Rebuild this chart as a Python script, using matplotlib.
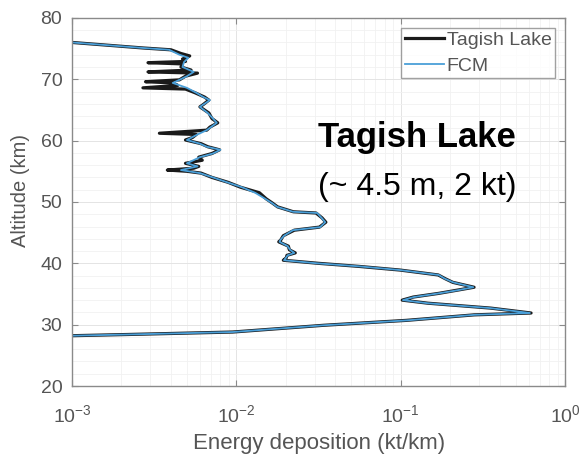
import matplotlib
matplotlib.use("Agg")
import matplotlib.pyplot as plt
from matplotlib.ticker import LogLocator, MultipleLocator

plt.rcParams['font.family'] = ['Liberation Sans', 'DejaVu Sans']
plt.rcParams['mathtext.default'] = 'regular'

# Energy deposition profiles (altitude in km, energy in kt/km)
alt_obs = [76.6, 76.0, 75.1, 74.8, 74.2, 73.8, 73.3, 72.9, 72.7, 72.5, 72.0, 71.5,
           71.2, 71.0, 70.5, 69.9, 69.6, 69.4, 69.0, 68.6, 68.4, 67.8, 67.1, 66.6,
           65.9, 65.5, 64.5, 63.6, 62.9, 62.2, 61.7, 61.2, 61.0, 60.5, 60.1, 59.5,
           59.0, 58.5, 57.9, 57.3, 56.8, 56.3, 55.8, 55.5, 55.2, 55.0, 54.7, 54.0,
           53.2, 52.4, 51.5, 50.5, 49.8, 49.2, 48.4, 48.2, 47.4, 46.7, 45.9, 45.4,
           44.5, 43.8, 43.5, 42.8, 42.2, 41.7, 41.3, 40.9, 40.5, 40.0, 39.5, 38.9,
           38.1, 37.5, 36.9, 36.1, 35.6, 35.1, 34.5, 34.0, 33.5, 32.7, 31.9, 31.6,
           30.7, 29.9, 28.8, 28.4, 28.2, 27.9]
e_obs = [0.0008, 0.0010, 0.0027, 0.0040, 0.0046, 0.0052, 0.0047, 0.0049, 0.0029, 0.0047,
         0.0046, 0.0053, 0.0029, 0.0058, 0.0049, 0.0045, 0.0028, 0.0041, 0.0044, 0.0027,
         0.0049, 0.0056, 0.0064, 0.0068, 0.0063, 0.0060, 0.0068, 0.0071, 0.0077, 0.0069,
         0.0066, 0.0034, 0.0057, 0.0054, 0.0049, 0.0061, 0.0067, 0.0079, 0.0071, 0.0059,
         0.0062, 0.0049, 0.0059, 0.0055, 0.0038, 0.0050, 0.0061, 0.0071, 0.0089, 0.0106,
         0.0138, 0.0152, 0.0166, 0.0178, 0.0222, 0.0305, 0.0332, 0.0350, 0.0320, 0.0225,
         0.0193, 0.0186, 0.0181, 0.0207, 0.0210, 0.0228, 0.0203, 0.0201, 0.0193, 0.0315,
         0.0555, 0.0990, 0.1690, 0.1860, 0.2070, 0.2790, 0.2180, 0.1700, 0.1190, 0.1020,
         0.1460, 0.3520, 0.6200, 0.2800, 0.1080, 0.0340, 0.0095, 0.0022, 0.0010, 0.0007]

alt_fcm = [76.6, 76.0, 75.1, 74.8, 74.0, 73.5, 72.8, 72.0, 71.2, 70.5, 69.9, 69.4,
           68.6, 67.8, 67.1, 66.6, 65.5, 64.5, 63.6, 62.9, 62.2, 61.7, 61.0, 60.1,
           59.5, 59.0, 58.5, 57.9, 57.3, 56.3, 55.8, 55.2, 54.7, 54.0, 53.2, 52.4,
           51.5, 50.5, 49.8, 49.2, 48.4, 48.2, 47.4, 46.7, 45.9, 45.4, 44.5, 43.8,
           43.5, 42.8, 42.2, 41.7, 41.3, 40.9, 40.5, 40.0, 39.5, 38.9, 38.1, 37.5,
           36.9, 36.1, 35.6, 35.1, 34.5, 34.0, 33.5, 32.7, 31.9, 31.6, 30.7, 29.9,
           28.8, 28.4, 28.2, 27.9]
e_fcm = [0.0008, 0.0010, 0.0027, 0.0039, 0.0045, 0.0051, 0.0048, 0.0047, 0.0055, 0.0050,
         0.0045, 0.0041, 0.0050, 0.0057, 0.0063, 0.0069, 0.0060, 0.0067, 0.0072, 0.0076,
         0.0070, 0.0066, 0.0058, 0.0050, 0.0060, 0.0066, 0.0080, 0.0072, 0.0060, 0.0050,
         0.0058, 0.0046, 0.0060, 0.0072, 0.0088, 0.0108, 0.0130, 0.0150, 0.0165, 0.0177,
         0.0221, 0.0310, 0.0330, 0.0347, 0.0323, 0.0221, 0.0195, 0.0185, 0.0183, 0.0205,
         0.0212, 0.0225, 0.0205, 0.0200, 0.0195, 0.0310, 0.0560, 0.0990, 0.1700, 0.1850,
         0.2080, 0.2760, 0.2200, 0.1700, 0.1200, 0.1030, 0.1450, 0.3500, 0.6100, 0.2800,
         0.1090, 0.0340, 0.0095, 0.0022, 0.0010, 0.0007]

x_ticks = [1e-3, 1e-2, 1e-1, 1e0]
y_ticks = [20, 30, 40, 50, 60, 70, 80]

fig = plt.figure(figsize=(5.83, 4.59), dpi=100)
ax = fig.add_axes([0.1235, 0.159, 0.846, 0.802])

ax.plot(e_obs, alt_obs, color='#1a1a1a', lw=2.3, label='Tagish Lake')
ax.plot(e_fcm, alt_fcm, color='#4a9fd8', lw=1.3, label='FCM')

ax.set_xscale('log')
ax.set_xlim(1e-3, 1e0)
ax.set_ylim(20, 80)
ax.set_xticks(x_ticks)
ax.set_yticks(y_ticks)
ax.xaxis.set_minor_locator(LogLocator(base=10, subs=range(2, 10)))
ax.yaxis.set_minor_locator(MultipleLocator(2))

ax.grid(True, which='major', color='#e4e4e4', lw=0.7)
ax.grid(True, which='minor', color='#f1f1f1', lw=0.6)
ax.set_axisbelow(True)

for s in ax.spines.values():
    s.set_color('#8a8a8a')
    s.set_linewidth(1.0)
ax.tick_params(which='both', direction='in', top=True, right=True, colors='#8a8a8a',
               labelcolor='#555555', labelsize=14)
ax.tick_params(axis='y', pad=7)
ax.tick_params(axis='x', pad=13)
ax.tick_params(which='minor', length=0)
ax.tick_params(which='major', length=4)

ax.set_xlabel('Energy deposition (kt/km)', fontsize=16, color='#555555', labelpad=5)
ax.set_ylabel('Altitude (km)', fontsize=14.5, color='#555555')
ax.yaxis.set_label_coords(-0.085, 0.53)

leg = ax.legend(loc='upper right', fontsize=14, frameon=True, fancybox=False,
                edgecolor='#8a8a8a', handlelength=2.0, handletextpad=0.15,
                borderpad=0.2, borderaxespad=0.5, labelspacing=0.4)
leg.get_frame().set_linewidth(1.0)
for t in leg.get_texts():
    t.set_color('#555555')

fig.text(417 / 583, 1 - 147 / 459, 'Tagish Lake', fontsize=25, fontweight='bold',
         ha='center', va='baseline', color='black')
fig.text(417 / 583, 1 - 195 / 459, '(~ 4.5 m, 2 kt)', fontsize=23,
         ha='center', va='baseline', color='black')

fig.savefig('out.png', dpi=100)
